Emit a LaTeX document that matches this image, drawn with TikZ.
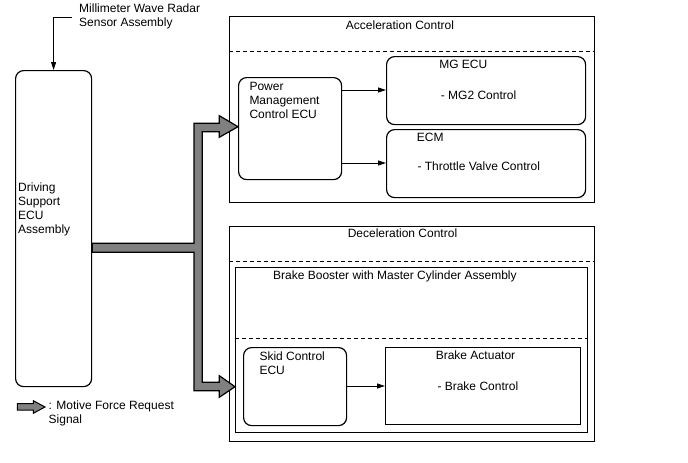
\documentclass[tikz,border=0pt]{standalone}
\usepackage{fontspec}
\setmainfont{Liberation Sans}
\usetikzlibrary{arrows.meta}
\definecolor{arrowgray}{RGB}{128,128,128}
\begin{document}
\begin{tikzpicture}[x=1pt,y=-1pt,
  box/.style={draw, line width=1.2pt, inner sep=0pt, anchor=north west},
  rbox/.style={box, rounded corners=8pt},
  lbl/.style={inner sep=0pt, anchor=base west, font=\fontsize{12}{14}\selectfont},
  clbl/.style={lbl, anchor=base},
  conn/.style={line width=0.8pt, -{Triangle[length=8pt,width=5pt]}},
  sepline/.style={dash pattern=on 4pt off 3pt, line width=0.8pt},
  bigarrow/.style={fill=arrowgray, draw=black, line width=1.2pt, line join=miter}
]
\useasboundingbox (0,0) rectangle (688,463);
\fill[white] (0,0) rectangle (688,463);

% Driving support ECU
\node[rbox, minimum width=76pt, minimum height=316pt] (dsecu) at (15,70) {};
\node[lbl] (t1) at (18,191) {Driving};
\node[lbl] (t2) at (18,205) {Support};
\node[lbl] (t3) at (18,219) {ECU};
\node[lbl] (t4) at (18,233) {Assembly};

% radar
\node[lbl] (r1) at (79,12.7) {Millimeter Wave Radar};
\node[lbl] (r2) at (79,27) {Sensor Assembly};
\coordinate (radarend) at (72,17);
\draw[conn] (radarend) -| (dsecu.north);

% Acceleration control
\node[box, minimum width=365pt, minimum height=186pt] (acc) at (229,16) {};
\draw[sepline] (acc.west |- 0,51) -- (acc.east |- 0,51);
\node[clbl] (acct) at (400,29) {Acceleration Control};
\node[rbox, minimum width=103pt, minimum height=102pt] (pm) at (238,77) {};
\node[lbl] (p1) at (249.3,90.5) {Power};
\node[lbl] (p2) at (249.3,104.3) {Management};
\node[lbl] (p3) at (249.3,118) {Control ECU};
\node[rbox, minimum width=199pt, minimum height=68pt] (mg) at (386,56) {};
\node[clbl] (mgt) at (463.3,68) {MG ECU};
\node[lbl] (mgc) at (440.7,99) {- MG2 Control};
\node[rbox, minimum width=199pt, minimum height=68pt] (ecm) at (386,129) {};
\node[lbl] (ecmt) at (416.7,141.5) {ECM};
\node[lbl] (ecmc) at (417.3,170.5) {- Throttle Valve Control};
\draw[conn] (pm.east |- 0,90) -- (mg.west |- 0,90);
\draw[conn] (pm.east |- 0,163) -- (ecm.west |- 0,163);

% Deceleration control
\node[box, minimum width=365pt, minimum height=215pt] (dec) at (229,226) {};
\draw[sepline] (dec.west |- 0,261) -- (dec.east |- 0,261);
\node[clbl] (dect) at (402.5,237) {Deceleration Control};
\node[box, minimum width=352pt, minimum height=165pt] (bb) at (235,267) {};
\node[lbl] (bbt) at (273,279) {Brake Booster with Master Cylinder Assembly};
\draw[sepline] (bb.west |- 0,338) -- (bb.east |- 0,338);
\node[rbox, minimum width=103pt, minimum height=78pt] (skid) at (243,347) {};
\node[lbl] (s1) at (259.3,360.7) {Skid Control};
\node[lbl] (s2) at (259.3,374.5) {ECU};
\node[box, minimum width=195pt, minimum height=77pt] (ba) at (385,347) {};
\node[clbl] (bat) at (475.5,359.3) {Brake Actuator};
\node[lbl] (bac) at (437.3,390.7) {- Brake Control};
\draw[conn] (skid.east |- 0,386) -- (ba.west |- 0,386);

% motive force request arrow
\draw[bigarrow] (dsecu.east |- 0,243.3) -- (194,243.3) -- (194,123.3) -- (219.3,123.3)
  -- (219.3,115.7) -- (pm.west |- 0,126.7) -- (219.3,137.3) -- (219.3,131.7)
  -- (202.3,131.7) -- (202.3,382.3) -- (219.3,382.3) -- (219.3,375.7)
  -- (bb.west |- 0,386.7) -- (219.3,397.3) -- (219.3,390.7) -- (194,390.7)
  -- (194,252.3) -- (dsecu.east |- 0,252.3) -- cycle;

% legend
\draw[bigarrow, line width=1pt] (17.3,403.5) -- (33.3,403.5) -- (33.3,400.7) -- (45,407)
  -- (33.3,413.3) -- (33.3,410) -- (17.3,410) -- cycle;
\node[lbl] (l1) at (48.5,409.5) {: Motive Force Request};
\node[lbl] (l2) at (48.5,423.5) {Signal};
\end{tikzpicture}
\end{document}
